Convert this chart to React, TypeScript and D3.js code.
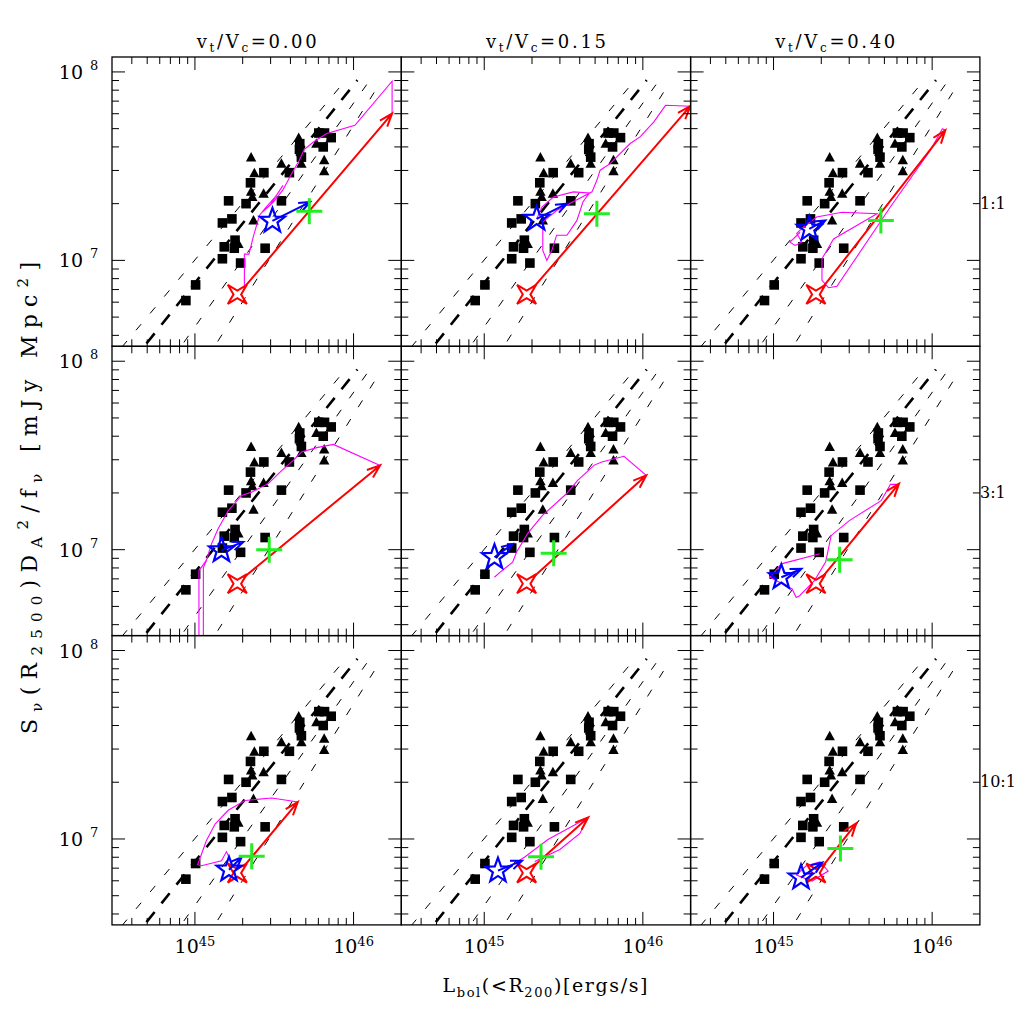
import React from 'react';
import * as d3 from 'd3';

// Units: L in 1e45 erg/s, S in 1e7 mJy Mpc^2
const xDomain: [number, number] = [0.3, 20];
const yDomain: [number, number] = [0.35, 12];
const xMajorTicks = [1, 10];
const xMajorExp = ['45', '46'];
const yMajorTicks = [1, 10];
const yMajorExp = ['7', '8'];
const xMinorTicks = [0.4, 0.5, 0.6, 0.7, 0.8, 0.9, 2, 3, 4, 5, 6, 7, 8, 9];
const yMinorTicks = [0.4, 0.5, 0.6, 0.7, 0.8, 0.9, 2, 3, 4, 5, 6, 7, 8, 9];

const colTitles = ['0.00', '0.15', '0.40'];
const rowLabels = ['1:1', '3:1', '10:1'];

// observed clusters
const obsSquares: [number, number][] = [
  [0.877, 0.612], [1.01, 0.741], [1.49, 1.02], [1.94, 0.968], [1.53, 1.18], [1.77, 1.16],
  [1.79, 1.28], [2.77, 1.16], [1.49, 1.58], [1.71, 1.66], [1.63, 2.07], [2.10, 2.00],
  [3.51, 2.07], [2.24, 2.58], [2.72, 2.92], [3.94, 2.92], [4.56, 3.88], [4.69, 3.53],
  [6.04, 4.74], [6.56, 4.74], [7.23, 4.48], [6.44, 4.00], [4.58, 4.16],
];
const obsTriangles: [number, number][] = [
  [2.26, 3.51], [2.37, 2.90], [2.26, 2.31], [2.30, 2.17], [2.71, 2.26], [2.34, 1.63],
  [1.88, 1.22], [3.51, 3.26], [4.51, 4.46], [4.69, 3.26], [5.83, 4.16], [6.53, 3.40], [6.53, 2.97],
];

// scaling relations (dashed)
const relationA: [number, number][] = [[0.282, 0.282], [8.91, 9.04]];
const relationB: [number, number][] = [[0.398, 0.288], [10.57, 9.04]];
const relationC: [number, number][] = [[0.708, 0.295], [12.27, 8.71]];
const relationD: [number, number][] = [[1.175, 0.296], [14.0, 8.18]];
const relations = [relationA, relationB, relationC, relationD];

// per panel, row-major
const redStart: [number, number] = [1.85, 0.66];
const redArrowStart: [number, number] = [2.02, 0.71];
const redArrowEnds: [number, number][] = [
  [17.5, 6.01], [19.9, 6.58], [12.1, 4.90],
  [14.7, 2.80], [10.5, 2.48], [6.18, 2.24],
  [4.45, 1.57], [4.52, 1.30], [3.32, 1.21],
];
const blueStars: [number, number][] = [
  [3.08, 1.62], [2.14, 1.66], [1.68, 1.47],
  [1.47, 0.991], [1.16, 0.912], [1.12, 0.714],
  [1.64, 0.687], [1.22, 0.679], [1.49, 0.624],
];
const blueArrowEnds: [number, number][] = [
  [5.32, 2.04], [3.32, 2.00], [2.12, 1.63],
  [2.02, 1.10], [1.51, 1.07], [1.50, 0.791],
  [1.97, 0.800], [1.73, 0.767], [2.03, 0.750],
];
const greenPlus: [number, number][] = [
  [5.26, 1.82], [5.13, 1.77], [4.75, 1.63],
  [2.94, 0.998], [2.74, 0.957], [2.61, 0.883],
  [2.28, 0.809], [2.28, 0.805], [2.64, 0.889],
];
const tracks: [number, number][][][] = [
  [[[2.05, 0.736], [2.05, 1.08], [2.19, 1.08], [2.33, 1.33], [2.55, 1.73], [2.81, 1.92], [3.24, 2.19], [3.59, 2.50], [2.97, 1.96], [2.65, 1.80], [3.12, 2.04], [3.57, 2.35], [4.07, 2.88], [4.55, 3.40], [4.88, 3.87], [5.58, 4.25], [6.78, 4.71], [10.2, 5.21], [17.5, 8.93], [17.5, 6.01]]],
  [[[2.14, 1.66], [2.31, 1.92], [2.73, 2.17], [3.65, 2.31], [4.60, 2.28], [4.19, 2.04], [3.84, 1.63], [3.32, 1.36], [2.86, 1.36], [2.67, 1.13], [2.48, 1.00], [2.34, 1.13], [2.34, 1.60], [2.86, 1.84], [4.78, 2.31], [5.13, 2.66], [5.38, 3.01], [6.22, 3.26], [8.32, 4.17], [9.60, 4.52], [11.7, 5.42], [13.9, 6.65], [19.9, 6.58]]],
  [[[1.47, 1.41], [1.27, 1.25], [1.37, 1.20], [1.51, 1.25], [1.40, 1.39], [1.54, 1.50], [1.87, 1.70], [2.70, 1.80], [4.49, 1.77], [2.39, 1.30], [2.02, 1.02], [2.02, 0.783], [2.22, 0.716], [2.51, 0.728], [5.45, 1.92], [9.75, 3.84], [11.6, 5.00], [12.1, 4.90]]],
  [[[1.06, 0.274], [1.06, 0.774], [1.18, 0.877], [1.27, 1.07], [1.40, 1.29], [1.62, 1.61], [1.97, 1.94], [2.28, 2.02], [2.90, 2.24], [3.52, 2.63], [4.17, 2.98], [4.71, 3.30], [5.86, 3.48], [7.46, 3.62], [14.7, 2.80]],
   [[1.13, 0.274], [1.13, 0.804], [1.18, 0.877]]],
  [[[1.16, 0.714], [1.26, 0.760], [1.51, 0.859], [1.60, 0.971], [1.88, 1.22], [2.33, 1.52], [3.30, 1.98], [3.88, 2.33], [4.94, 2.81], [5.51, 2.92], [7.60, 3.13], [10.5, 2.48]]],
  [[[1.96, 0.951], [1.12, 0.841], [0.951, 0.714], [1.31, 0.619], [1.39, 0.558], [1.46, 0.570], [1.81, 0.685], [2.13, 0.859], [2.31, 1.19], [3.02, 1.43], [4.77, 1.82], [5.46, 2.22], [6.08, 2.22], [6.18, 2.24]]],
  [[[1.64, 0.800], [1.58, 0.857], [1.47, 0.767], [1.10, 0.721], [1.04, 0.730], [1.18, 0.979], [1.34, 1.20], [1.62, 1.42], [2.07, 1.60], [3.05, 1.65], [3.88, 1.60], [4.45, 1.57]]],
  [[[1.41, 0.705], [1.81, 0.805], [2.52, 0.993], [3.47, 1.15], [4.52, 1.30], [4.01, 1.07], [3.00, 0.879], [2.08, 0.759]]],
  [[[1.39, 0.644], [1.60, 0.719], [1.96, 0.755], [2.21, 0.676], [1.75, 0.598], [1.39, 0.644]]],
];

// ---------- layout ----------
const X0 = 112, Y0 = 57, PW = 289.3, PH = 289.3;
const FONT = "'DejaVu Serif', 'Liberation Serif', serif";
const xs = d3.scaleLog().domain(xDomain).range([0, PW]);
const ys = d3.scaleLog().domain(yDomain).range([PH, 0]);
const lineGen = d3.line<[number, number]>().x(d => xs(d[0])).y(d => ys(d[1]));

function arrowPath(p0: number[], p1: number[], len: number, ang: number) {
  const a = Math.atan2(p1[1] - p0[1], p1[0] - p0[0]);
  const t = (ang * Math.PI) / 180;
  const l = [p1[0] - len * Math.cos(a - t), p1[1] - len * Math.sin(a - t)];
  const r = [p1[0] - len * Math.cos(a + t), p1[1] - len * Math.sin(a + t)];
  return `M${p0[0]},${p0[1]}L${p1[0]},${p1[1]}M${l[0]},${l[1]}L${p1[0]},${p1[1]}L${r[0]},${r[1]}`;
}
function starPath(cx: number, cy: number, R: number, r: number, n: number, rot: number) {
  const pts: string[] = [];
  for (let i = 0; i < 2 * n; i++) {
    const a = ((rot + (i * 180) / n) * Math.PI) / 180;
    const rad = i % 2 === 0 ? R : r;
    pts.push(`${cx + rad * Math.cos(a)},${cy + rad * Math.sin(a)}`);
  }
  return 'M' + pts.join('L') + 'Z';
}

function Panel({ r, c }: { r: number; c: number }) {
  const i = r * 3 + c;
  const P = (d: [number, number]) => [xs(d[0]), ys(d[1])];
  const rs = P(redStart);
  const ras = P(redArrowStart);
  const rae = P(redArrowEnds[i]);
  const bs = P(blueStars[i]);
  const bae = P(blueArrowEnds[i]);
  const gp = P(greenPlus[i]);
  const allX = [...xMajorTicks.map(v => ({ v, major: true })), ...xMinorTicks.map(v => ({ v, major: false }))];
  const allY = [...yMajorTicks.map(v => ({ v, major: true })), ...yMinorTicks.map(v => ({ v, major: false }))];
  return (
    <g transform={`translate(${X0 + c * PW},${Y0 + r * PH})`}>
      <g clipPath="url(#pclip)">
        {relations.map((pts, k) => (
          <path key={k} d={lineGen(pts) || ''} fill="none" stroke="#000"
            strokeWidth={k === 1 ? 2.6 : 1} strokeDasharray={k === 1 ? '13 11' : '8 14'} />
        ))}
        {obsSquares.map((d, k) => (
          <rect key={'s' + k} x={xs(d[0]) - 4.8} y={ys(d[1]) - 4.8} width={9.6} height={9.6} fill="#000" />
        ))}
        {obsTriangles.map((d, k) => {
          const px = xs(d[0]), py = ys(d[1]);
          return <path key={'t' + k} d={`M${px},${py - 5.5}L${px + 5.2},${py + 4}L${px - 5.2},${py + 4}Z`} fill="#000" />;
        })}
        {tracks[i].map((t, k) => (
          <path key={'m' + k} d={lineGen(t) || ''} fill="none" stroke="#ff00ff" strokeWidth={1.1} />
        ))}
        <path d={arrowPath(ras, rae, 14, 20)} fill="none" stroke="#ff0000" strokeWidth={2} />
        <path d={starPath(rs[0], rs[1], 13.5, 3.8, 4, 45)} fill="none" stroke="#ff0000" strokeWidth={2} />
        <path d={arrowPath(bs, bae, 12, 22)} fill="none" stroke="#0000ff" strokeWidth={2} />
        <path d={starPath(bs[0], bs[1], 13, 5.3, 5, -90)} fill="none" stroke="#0000ff" strokeWidth={2.2} />
        <path d={`M${gp[0] - 13},${gp[1]}L${gp[0] + 13},${gp[1]}M${gp[0]},${gp[1] - 13}L${gp[0]},${gp[1] + 13}`}
          stroke="#22ee22" strokeWidth={3} fill="none" />
      </g>
      <rect x={0} y={0} width={PW} height={PH} fill="none" stroke="#000" strokeWidth={1.3} />
      {allX.map((t, k) => {
        const px = xs(t.v), len = t.major ? 13 : 7;
        return (
          <g key={'xt' + k}>
            <line x1={px} x2={px} y1={PH} y2={PH - len} stroke="#000" strokeWidth={1} />
            <line x1={px} x2={px} y1={0} y2={len} stroke="#000" strokeWidth={1} />
          </g>
        );
      })}
      {allY.map((t, k) => {
        const py = ys(t.v), len = t.major ? 13 : 7;
        return (
          <g key={'yt' + k}>
            <line x1={0} x2={len} y1={py} y2={py} stroke="#000" strokeWidth={1} />
            <line x1={PW} x2={PW - len} y1={py} y2={py} stroke="#000" strokeWidth={1} />
          </g>
        );
      })}
    </g>
  );
}

export default function App() {
  const rows = [0, 1, 2], cols = [0, 1, 2];
  return (
    <svg width={1035} height={1035} style={{ position: 'absolute', left: 0, top: 0, background: '#fff' }}
      fontFamily={FONT}>
      <defs>
        <clipPath id="pclip"><rect x={0} y={0} width={PW} height={PH} /></clipPath>
      </defs>
      <rect x={0} y={0} width={1035} height={1035} fill="#fff" />
      {rows.map(r => cols.map(c => <Panel key={`${r}-${c}`} r={r} c={c} />))}
      {/* column titles */}
      {colTitles.map((t, c) => (
        <text key={'ct' + c} x={X0 + c * PW + PW / 2} y={48} textAnchor="middle" fontSize={18}
          textLength={120} lengthAdjust="spacing">
          v<tspan dy={4} fontSize={12}>t</tspan><tspan dy={-4}>/V</tspan><tspan dy={4} fontSize={12}>c</tspan><tspan dy={-4}>={t}</tspan>
        </text>
      ))}
      {/* row labels */}
      {rowLabels.map((t, r) => (
        <text key={'rl' + r} x={980} y={Y0 + r * PH + PH / 2 + 7} fontSize={16}>{t}</text>
      ))}
      {/* y tick labels */}
      {rows.map(r => yMajorTicks.map((v, k) => {
        const py = Y0 + r * PH + ys(v);
        return (
          <g key={`yl${r}-${k}`}>
            <text x={83} y={py + 7} textAnchor="end" fontSize={19}>10</text>
            <text x={90} y={py - 2} fontSize={13}>{yMajorExp[k]}</text>
          </g>
        );
      }))}
      {/* x tick labels */}
      {cols.map(c => xMajorTicks.map((v, k) => (
        <text key={`xl${c}-${k}`} x={X0 + c * PW + xs(v)} y={953} textAnchor="middle" fontSize={19}>
          10<tspan dy={-7} fontSize={13}>{xMajorExp[k]}</tspan>
        </text>
      )))}
      {/* axis titles */}
      <text x={545} y={992} textAnchor="middle" fontSize={19} textLength={205} lengthAdjust="spacing">
        L<tspan dy={5} fontSize={13}>bol</tspan><tspan dy={-5}>(&lt;R</tspan><tspan dy={5} fontSize={13}>200</tspan><tspan dy={-5}>)[ergs/s]</tspan>
      </text>
      <text transform="translate(37,498) rotate(-90)" textAnchor="middle" fontSize={22}
        textLength={472} lengthAdjust="spacing">
        S<tspan dy={5} fontSize={15}>ν</tspan><tspan dy={-5}>(R</tspan><tspan dy={5} fontSize={15}>2500</tspan><tspan dy={-5}>)D</tspan><tspan dy={5} fontSize={15}>A</tspan><tspan dy={-14} fontSize={15}>2</tspan><tspan dy={9}>/f</tspan><tspan dy={5} fontSize={15}>ν</tspan><tspan dy={-5}> [mJy Mpc</tspan><tspan dy={-9} fontSize={15}>2</tspan><tspan dy={9}>]</tspan>
      </text>
    </svg>
  );
}
